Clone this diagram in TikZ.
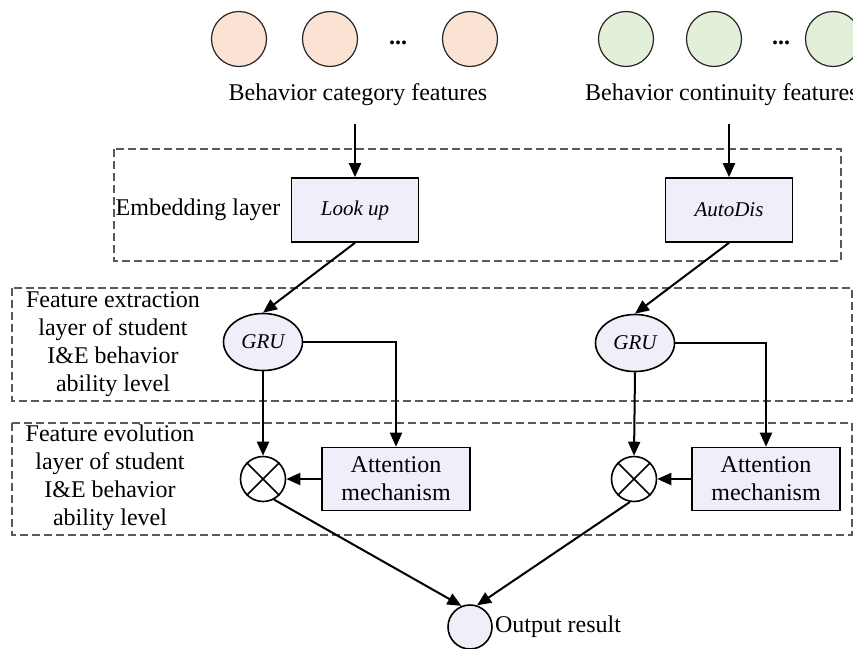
\documentclass[tikz,border=0pt]{standalone}
\usepackage{fontspec}
\setmainfont{Liberation Serif}
\usetikzlibrary{arrows.meta,shapes.geometric}

\definecolor{catfill}{HTML}{FBE3D3}
\definecolor{confill}{HTML}{E2EFD9}
\definecolor{boxfill}{HTML}{EEEFF8}

\tikzset{
    catdot/.style={circle, draw=black!85, line width=1.2pt, fill=catfill, minimum size=55pt, inner sep=0pt},
    condot/.style={circle, draw=black!85, line width=1.2pt, fill=confill, minimum size=55pt, inner sep=0pt},
    layer/.style={draw=black!65, line width=1.2pt, dash pattern=on 8pt off 4pt},
    lbox/.style={rectangle, draw, line width=1.6pt, fill=boxfill, minimum width=127pt, minimum height=64pt, font=\fontsize{21}{24}\selectfont\itshape},
    gru/.style={ellipse, draw, line width=1.6pt, fill=boxfill, minimum width=79pt, minimum height=57pt, inner sep=0pt, font=\fontsize{21}{24}\selectfont\itshape},
    abox/.style={rectangle, draw, line width=1.6pt, fill=boxfill, align=center, minimum width=148pt, minimum height=63pt, inner sep=2pt},
    mult/.style={circle, draw, line width=1.6pt, minimum size=45pt, inner sep=0pt},
    outdot/.style={circle, draw, line width=1.6pt, fill=boxfill, minimum size=44pt, inner sep=0pt}
}

\begin{document}
\begin{tikzpicture}[x=1pt, y=-1pt, font=\fontsize{24}{28}\selectfont,
    >={Triangle[length=14pt,width=12pt]}]
    \useasboundingbox (0,0) rectangle (853,648);

    % input features
    \foreach \x/\n in {239/1,330/2,470/3}{
        \node[catdot] (c\n) at (\x,39) {};}
    \node[anchor=base] (cdots) at (398,44) {\textbf{...}};
    \node (cattext) at (358,95) {Behavior category features};

    \foreach \x/\n in {626/1,714/2,833/3}{
        \node[condot] (d\n) at (\x,39) {};}
    \node[anchor=base] (ddots) at (781,44) {\textbf{...}};
    \node[anchor=west, inner sep=0pt] (context) at (585,95) {Behavior continuity features};

    % dashed layers
    \draw[layer] (114,149) rectangle (841,261);
    \draw[layer] (12,288) rectangle (852,401);
    \draw[layer] (12,423) rectangle (852,535);

    \node (emb) at (198,210) {Embedding layer};
    \node[align=center] (ext) at (113,344) {Feature extraction\\layer of student\\I\&E behavior\\ability level};
    \node[align=center] (evo) at (110,478) {Feature evolution\\layer of student\\I\&E behavior\\ability level};

    % blocks
    \node[lbox] (look) at (355,210) {Look up};
    \node[lbox] (auto) at (729,210) {AutoDis};
    \node[gru] (g1) at (263,342) {GRU};
    \node[gru] (g2) at (635,343) {GRU};
    \node[mult] (m1) at (263,479) {};
    \node[mult] (m2) at (634,479) {};
    \node[abox] (a1) at (396,479) {Attention\\mechanism};
    \node[abox] (a2) at (766,479) {Attention\\mechanism};
    \node[outdot] (out) at (470,627) {};
    \node[anchor=west, inner sep=2pt] (outtext) at (out.east) {Output result};

    \draw[line width=1.6pt] (m1.north west) -- (m1.south east) (m1.north east) -- (m1.south west);
    \draw[line width=1.6pt] (m2.north west) -- (m2.south east) (m2.north east) -- (m2.south west);

    % arrows
    \begin{scope}[line width=2pt]
    \draw[->] ([yshift=-14pt]look.north |- cattext.south) -- (look.north);
    \draw[->] ([yshift=-14pt]auto.north |- cattext.south) -- (auto.north);
    \draw[->] (look.south) -- (g1.north);
    \draw[->] (auto.south) -- (g2.north);
    \draw[->] (g1.south) -- (m1.north);
    \draw[->] (g2.south) -- (m2.north);
    \draw[->] (g1.east) -| (a1.north);
    \draw[->] (g2.east) -| (a2.north);
    \draw[->] (a1.west) -- (m1.east);
    \draw[->] (a2.west) -- (m2.east);
    \draw[->] (m1.-62) -- (out.112);
    \draw[->] (m2.-100) -- (out.72);
    \end{scope}
\end{tikzpicture}
\end{document}
